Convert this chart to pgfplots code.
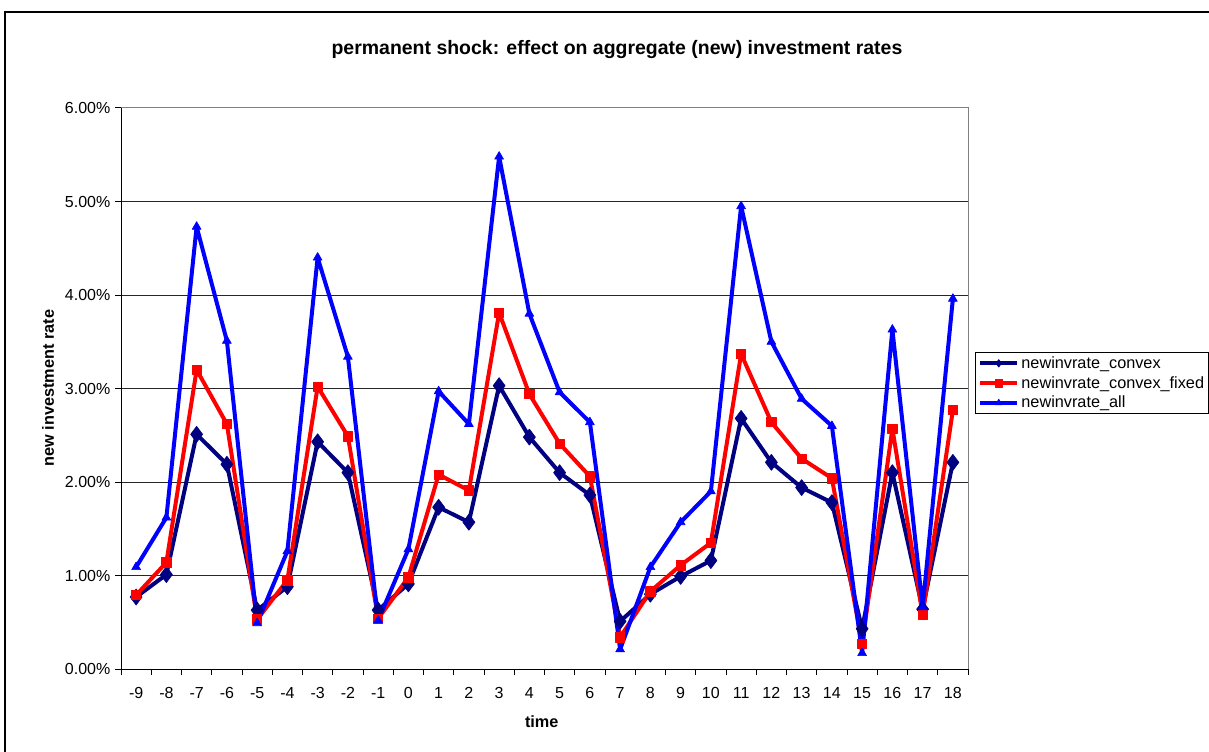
\documentclass[border=0pt]{standalone}
\usepackage{pgfplots}
\pgfplotsset{compat=1.18}
\usepackage{pgfplotstable}
\usepackage{fontspec}
\setmainfont{Liberation Sans}

% aggregate new investment rates (in percent) by period
\pgfplotstableread{
t   convex fixed all
-9  0.77  0.79  1.09
-8  1.01  1.14  1.62
-7  2.51  3.20  4.73
-6  2.19  2.62  3.51
-5  0.63  0.53  0.49
-4  0.88  0.95  1.26
-3  2.43  3.02  4.40
-2  2.10  2.49  3.34
-1  0.63  0.54  0.52
0   0.91  0.98  1.28
1   1.73  2.08  2.97
2   1.57  1.91  2.62
3   3.03  3.81  5.48
4   2.48  2.94  3.80
5   2.10  2.41  2.96
6   1.86  2.06  2.64
7   0.51  0.34  0.21
8   0.80  0.83  1.09
9   0.99  1.11  1.57
10  1.16  1.35  1.90
11  2.68  3.37  4.95
12  2.21  2.64  3.50
13  1.94  2.25  2.89
14  1.78  2.04  2.60
15  0.43  0.27  0.17
16  2.10  2.57  3.63
17  0.64  0.58  0.66
18  2.21  2.77  3.96
}\ratetable

\definecolor{navyline}{RGB}{0,0,128}
\definecolor{redline}{RGB}{255,0,0}
\definecolor{blueline}{RGB}{0,0,255}

\begin{document}
\begin{tikzpicture}
\useasboundingbox (0pt,0pt) rectangle (906.75pt,563.25pt);
\clip (0pt,0pt) rectangle (906.75pt,563.25pt);
% chart frame
\draw[line width=1.5pt] (3.75pt,-20pt) rectangle (930pt,554.25pt);

\node[font=\fontsize{14.6}{16}\selectfont\bfseries] at (462.75pt,525.75pt)
  {permanent shock: effect on aggregate (new) investment rates};
\node[font=\fontsize{12.2}{14}\selectfont\bfseries] at (406.3pt,22pt) {time};
\node[font=\fontsize{12.2}{14}\selectfont\bfseries, rotate=90] at (36pt,272.25pt)
  {new investment rate};

\begin{axis}[
  at={(90.75pt,61.5pt)}, anchor=south west,
  scale only axis, width=635.25pt, height=420.75pt,
  xmin=-9.5, xmax=18.5, ymin=0, ymax=6,
  axis line style={draw=gray, line width=0.75pt},
  xtick={-9,...,18},
  xticklabels={-9,-8,-7,-6,-5,-4,-3,-2,-1,0,1,2,3,4,5,6,7,8,9,10,11,12,13,14,15,16,17,18},
  xtick pos=bottom, ytick pos=left,
  tick align=outside,
  xtick style={draw=none},
  extra x ticks={-9.5,-8.5,...,18.5},
  extra x tick labels={},
  extra x tick style={xtick style={draw=black, line width=0.75pt}, major tick length=4.5pt},
  ytick={0,1,2,3,4,5,6},
  yticklabels={0.00\%,1.00\%,2.00\%,3.00\%,4.00\%,5.00\%,6.00\%},
  ytick style={draw=black, line width=0.75pt},
  major tick length=4.5pt,
  ymajorgrids,
  major grid style={draw=black!85, line width=0.75pt},
  tick label style={font=\fontsize{12}{14}\selectfont},
  xticklabel style={yshift=-5.5pt},
  legend style={at={(1.0083,0.565)}, anchor=north west, draw=black, line width=0.6pt,
    font=\fontsize{12.2}{14}\selectfont, inner xsep=2pt, inner ysep=2pt,
    row sep=2.5pt, nodes={inner xsep=1.5pt, inner ysep=1pt}},
  legend cell align=left,
  legend image code/.code={%
    \draw[mark repeat=2,mark phase=2,#1, mark size=2.8pt]
      plot coordinates {(0pt,0pt) (14pt,0pt) (28pt,0pt)};},
  clip=false,
]
\addplot[navyline, line width=3pt, line join=round, mark=diamond*, mark size=6pt,
  mark options={solid, fill=navyline, draw=navyline, line width=0.5pt}]
  table[x=t, y=convex] {\ratetable};
\addlegendentry{newinvrate\_convex}
\addplot[redline, line width=3pt, line join=round, mark=square*, mark size=3.5pt,
  mark options={solid, fill=redline, draw=redline, line width=0.5pt}]
  table[x=t, y=fixed] {\ratetable};
\addlegendentry{newinvrate\_convex\_fixed}
\addplot[blueline, line width=3pt, line join=round, mark=triangle*, mark size=3.8pt,
  mark options={solid, fill=blueline, draw=blueline, line width=0.5pt}]
  table[x=t, y=all] {\ratetable};
\addlegendentry{newinvrate\_all}
\draw[black, line width=0.75pt] (rel axis cs:0,1) -- (rel axis cs:0,0) -- (rel axis cs:1,0);
\end{axis}
\end{tikzpicture}
\end{document}
